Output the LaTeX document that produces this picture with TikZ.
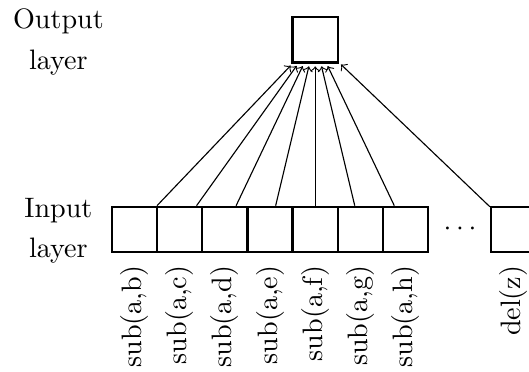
\documentclass[tikz,border=0pt]{standalone}
\usetikzlibrary{positioning}

\begin{document}
\begin{tikzpicture}[
  x=1cm,
  y=1cm,
  every node/.style={font=\fontsize{10}{12}\selectfont},
  unit/.style={draw, line width=0.8pt, minimum size=0.565cm, inner sep=0pt},
  conn/.style={line width=0.4pt, ->, shorten >=1pt},
  feat/.style={rotate=90, anchor=east, inner sep=0pt},
  layerlab/.style={align=center, inner sep=0pt, font=\fontsize{10}{14.4}\selectfont}
]
  % ---- common bounding box ----
  \useasboundingbox (0,0) rectangle (6.6125,4.6375);

  % ---- layer names ----
  \node[layerlab] (outlab) at (0.73,4.11) {Output\\layer};
  \node[layerlab] (inlab)  at (0.73,1.75) {Input\\layer};

  % ---- output unit ----
  \node[unit] (out) at (3.94,4.14) {};

  % ---- input units with their features ----
  \foreach \i/\c in {1/b, 2/c, 3/d, 4/e, 5/f, 6/g, 7/h} {
    \node[unit] (in\i) at ({1.68+(\i-1)*0.565},1.77) {};
    \node[feat] (lab\i) at ([yshift=-0.15cm]in\i.south) {sub(a,\c)};
  }
  \node (dots) at (5.75,1.775) {$\cdots$};
  \node[unit] (indel) at (6.42,1.77) {};
  \node[feat] (labdel) at ([yshift=-0.15cm]indel.south) {del(z)};

  % ---- connections ----
  \foreach \i in {1,...,7}
    \draw[conn] (in\i) -- (out);
  \draw[conn] (indel) -- (out);
\end{tikzpicture}
\end{document}
